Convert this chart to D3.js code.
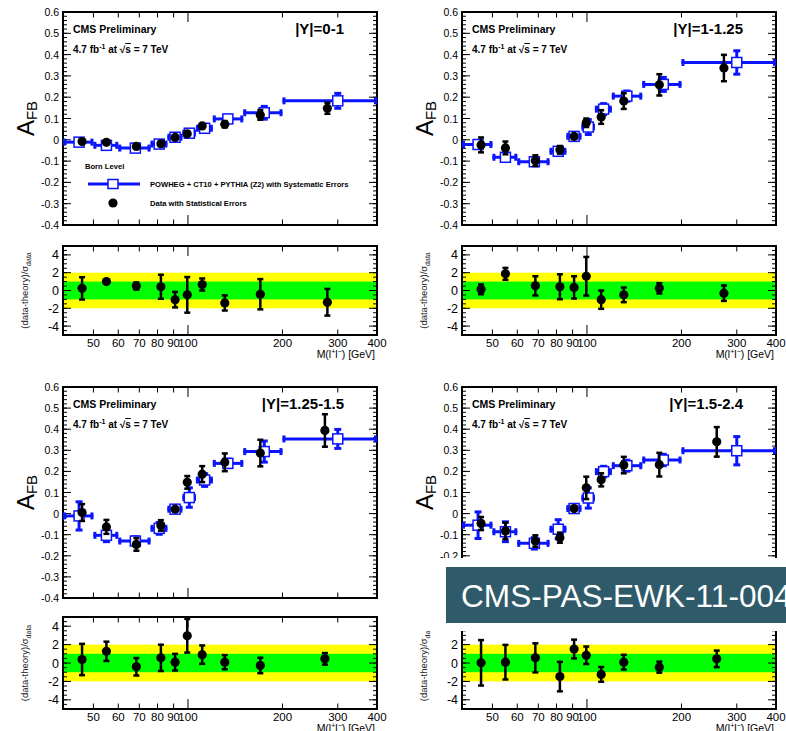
<!DOCTYPE html>
<html>
<head>
<meta charset="utf-8">
<script src="https://cdn.jsdelivr.net/npm/d3@7"></script>
<style>
  body { margin: 0; background: #fff; }
  svg { display: block; }
  text { font-family: "Liberation Sans", Arial, Helvetica, sans-serif; }
</style>
</head>
<body>
<svg id="chart" width="786" height="731"></svg>
<script>
// mass bins in GeV
const binLow  = [40, 50, 60, 76, 86, 96, 106, 120, 150, 200];
const binHigh = [50, 60, 76, 86, 96, 106, 120, 150, 200, 400];
const massTheory = [45, 55, 68, 81, 91, 101, 113, 134, 175, 300];
const massData = [46, 55, 68.5, 82, 91, 99.5, 111, 131, 170];
const massDataLast = [278, 273, 273, 259];
const rapidityLabels = ["|Y|=0-1", "|Y|=1-1.25", "|Y|=1.25-1.5", "|Y|=1.5-2.4"];

// |Y| = 0-1
const theory0    = [-0.011, -0.026, -0.039, -0.020, 0.012, 0.031, 0.054, 0.098, 0.127, 0.183];
const theoryErr0 = [0.008, 0.006, 0.006, 0.008, 0.008, 0.008, 0.010, 0.010, 0.030, 0.035];
const data0      = [-0.008, -0.012, -0.031, -0.019, 0.011, 0.028, 0.065, 0.073, 0.117, 0.148];
const dataErr0   = [0.010, 0.008, 0.010, 0.010, 0.010, 0.008, 0.008, 0.015, 0.023, 0.026];
const pull0      = [0.24, 1.0, 0.5, 0.42, -1.03, -0.49, 0.67, -1.4, -0.42, -1.32];
const pullErr0   = [1.25, 0.1, 0.4, 1.35, 0.87, 2.0, 0.68, 0.85, 1.7, 1.5];

// |Y| = 1-1.25
const theory1    = [-0.022, -0.082, -0.103, -0.054, 0.016, 0.060, 0.144, 0.205, 0.260, 0.363];
const theoryErr1 = [0.010, 0.010, 0.015, 0.012, 0.008, 0.035, 0.026, 0.024, 0.033, 0.055];
const data1      = [-0.024, -0.038, -0.098, -0.047, 0.016, 0.080, 0.107, 0.182, 0.258, 0.337];
const dataErr1   = [0.035, 0.030, 0.025, 0.018, 0.008, 0.020, 0.032, 0.037, 0.050, 0.062];
const pull1      = [0.13, 1.87, 0.52, 0.42, 0.35, 1.6, -1.03, -0.49, 0.24, -0.3];
const pullErr1   = [0.55, 0.67, 1.08, 1.4, 1.25, 2.17, 1.03, 0.82, 0.58, 0.87];

// |Y| = 1.25-1.5
const theory2    = [-0.011, -0.103, -0.130, -0.070, 0.021, 0.076, 0.159, 0.238, 0.294, 0.354];
const theoryErr2 = [0.067, 0.030, 0.020, 0.028, 0.008, 0.046, 0.030, 0.020, 0.050, 0.045];
const data2      = [0.005, -0.063, -0.146, -0.056, 0.021, 0.148, 0.187, 0.243, 0.287, 0.394];
const dataErr2   = [0.040, 0.033, 0.030, 0.025, 0.008, 0.030, 0.038, 0.042, 0.063, 0.077];
const pull2      = [0.38, 1.27, -0.41, 0.56, 0.09, 2.96, 0.91, 0.09, -0.27, 0.45];
const pullErr2   = [1.7, 1.05, 0.95, 1.43, 0.9, 1.83, 1.0, 0.77, 0.84, 0.63];

// |Y| = 1.5-2.4
const theory3    = [-0.055, -0.086, -0.141, -0.074, 0.024, 0.074, 0.199, 0.227, 0.254, 0.298];
const theoryErr3 = [0.063, 0.047, 0.027, 0.045, 0.008, 0.048, 0.025, 0.026, 0.027, 0.067];
const data3      = [-0.047, -0.082, -0.130, -0.114, 0.024, 0.122, 0.160, 0.230, 0.232, 0.340];
const dataErr3   = [0.031, 0.039, 0.027, 0.024, 0.008, 0.053, 0.031, 0.039, 0.056, 0.070];
const pull3      = [0.02, 0.09, 0.56, -1.48, 1.52, 0.84, -1.24, 0.09, -0.45, 0.45];
const pullErr3   = [2.47, 1.88, 1.58, 1.6, 1.02, 0.95, 0.8, 0.8, 0.6, 0.9];

const xTickVals = [50, 60, 70, 80, 90, 100, 200, 300, 400];
const afbLabels = [-0.4, -0.3, -0.2, -0.1, 0, 0.1, 0.2, 0.3, 0.4, 0.5, 0.6];
const pullLabels = [-4, -2, 0, 2, 4];

const theories = [theory0, theory1, theory2, theory3];
const theoryErrs = [theoryErr0, theoryErr1, theoryErr2, theoryErr3];
const datas = [data0, data1, data2, data3];
const dataErrs = [dataErr0, dataErr1, dataErr2, dataErr3];
const pulls = [pull0, pull1, pull2, pull3];
const pullErrs = [pullErr0, pullErr1, pullErr2, pullErr3];

const BLUE = "#0a14ff";
const svg = d3.select("#chart");

// pixel boxes of the four pads
const pads = [
  { x0: 63,  x1: 377, top: [12, 225],  ratio: [246, 335] },
  { x0: 462, x1: 776, top: [12, 225],  ratio: [246, 335] },
  { x0: 63,  x1: 377, top: [387, 598], ratio: [617, 709] },
  { x0: 462, x1: 776, top: [387, 598], ratio: [617, 709] }
];

function drawTicks(g, x, y, yMajors, yMinors, bigX) {
  const [xa, xb] = x.range();
  const [yb, ya] = y.range();
  const t = g.append("g").attr("stroke", "#000").attr("stroke-width", 1);
  yMinors.forEach(v => {
    t.append("line").attr("x1", xa).attr("x2", xa + 4).attr("y1", y(v)).attr("y2", y(v));
    t.append("line").attr("x1", xb).attr("x2", xb - 4).attr("y1", y(v)).attr("y2", y(v));
  });
  yMajors.forEach(v => {
    t.append("line").attr("x1", xa).attr("x2", xa + 8).attr("y1", y(v)).attr("y2", y(v));
    t.append("line").attr("x1", xb).attr("x2", xb - 8).attr("y1", y(v)).attr("y2", y(v));
  });
  xTickVals.forEach(v => {
    const len = v === 100 ? bigX : bigX * 0.55;
    t.append("line").attr("x1", x(v)).attr("x2", x(v)).attr("y1", yb).attr("y2", yb - len);
    t.append("line").attr("x1", x(v)).attr("x2", x(v)).attr("y1", ya).attr("y2", ya + len);
  });
  g.append("rect").attr("x", xa).attr("y", ya).attr("width", xb - xa).attr("height", yb - ya)
    .attr("fill", "none").attr("stroke", "#000").attr("stroke-width", 2);
}

function errBar(g, cx, ylo, yhi, color, w, cap) {
  g.append("line").attr("x1", cx).attr("x2", cx).attr("y1", ylo).attr("y2", yhi)
    .attr("stroke", color).attr("stroke-width", w);
  [ylo, yhi].forEach(yy => g.append("line").attr("x1", cx - cap).attr("x2", cx + cap)
    .attr("y1", yy).attr("y2", yy).attr("stroke", color).attr("stroke-width", w));
}

function drawPanel(i) {
  const p = pads[i];
  const x = d3.scaleLog().domain([40, 400]).range([p.x0, p.x1]);
  const y = d3.scaleLinear().domain([-0.4, 0.6]).range([p.top[1], p.top[0]]);
  const yr = d3.scaleLinear().domain([-5, 5]).range([p.ratio[1], p.ratio[0]]);
  const g = svg.append("g");
  const dmass = massData.concat([massDataLast[i]]);

  // ---- upper pad ----
  const minorsA = d3.range(-40, 61, 2).map(v => v / 100);
  drawTicks(g, x, y, afbLabels, minorsA, 10);
  g.selectAll(".yl").data(afbLabels).enter().append("text")
    .attr("x", p.x0 - 4).attr("y", d => y(d) + 4).attr("text-anchor", "end")
    .attr("font-size", 10.5).text(d => d === 0 ? "0" : d.toFixed(1));

  // theory: bin-wide horizontal bars plus systematic errors
  const th = g.append("g");
  theories[i].forEach((v, k) => {
    const yy = y(v), xl = x(binLow[k]), xh = x(binHigh[k]);
    th.append("line").attr("x1", xl).attr("x2", xh).attr("y1", yy).attr("y2", yy)
      .attr("stroke", BLUE).attr("stroke-width", 3);
    [xl + 1.5, xh - 1.5].forEach(xx => th.append("line").attr("x1", xx).attr("x2", xx)
      .attr("y1", yy - 3.5).attr("y2", yy + 3.5).attr("stroke", BLUE).attr("stroke-width", 3));
    errBar(th, x(massTheory[k]), y(v - theoryErrs[i][k]), y(v + theoryErrs[i][k]), BLUE, 3, 3.5);
  });
  theories[i].forEach((v, k) => {
    th.append("rect").attr("x", x(massTheory[k]) - 5).attr("y", y(v) - 5)
      .attr("width", 10).attr("height", 10).attr("fill", "#fff")
      .attr("stroke", BLUE).attr("stroke-width", 1.5);
  });

  // data with statistical errors
  const dg = g.append("g");
  datas[i].forEach((v, k) => {
    errBar(dg, x(dmass[k]), y(v - dataErrs[i][k]), y(v + dataErrs[i][k]), "#000", 2.5, 3);
    dg.append("circle").attr("cx", x(dmass[k])).attr("cy", y(v)).attr("r", 4.6).attr("fill", "#000");
  });

  // texts
  g.append("text").attr("x", p.x0 + 10).attr("y", p.top[0] + 21)
    .attr("font-size", 10.5).attr("font-weight", "bold").text("CMS Preliminary");
  const lum = g.append("text").attr("x", p.x0 + 10).attr("y", p.top[0] + 41)
    .attr("font-size", 10).attr("font-weight", "bold");
  lum.append("tspan").text("4.7 fb");
  lum.append("tspan").attr("font-size", 7).attr("dy", -4).text("-1");
  lum.append("tspan").attr("dy", 4).text(" at \u221A");
  lum.append("tspan").attr("text-decoration", "overline").text("s");
  lum.append("tspan").text(" = 7 TeV");
  g.append("text").attr("x", p.x1 - 33).attr("y", p.top[0] + 22).attr("text-anchor", "end")
    .attr("font-size", 15).attr("font-weight", "bold").text(rapidityLabels[i]);

  const yc = (p.top[0] + p.top[1]) / 2;
  const at = g.append("text").attr("transform", `translate(${p.x0 - 29},${yc}) rotate(-90)`)
    .attr("text-anchor", "middle").attr("font-size", 24);
  at.append("tspan").text("A");
  at.append("tspan").attr("font-size", 15).attr("dy", 3).text("FB");

  // ---- ratio pad ----
  const r = g.append("g");
  r.append("rect").attr("x", p.x0).attr("width", p.x1 - p.x0)
    .attr("y", yr(2)).attr("height", yr(-2) - yr(2)).attr("fill", "#ffff00");
  r.append("rect").attr("x", p.x0).attr("width", p.x1 - p.x0)
    .attr("y", yr(1)).attr("height", yr(-1) - yr(1)).attr("fill", "#00ff00");
  const minorsR = d3.range(-5, 5.01, 0.5);
  drawTicks(r, x, yr, pullLabels, minorsR, 10);
  r.selectAll(".rl").data(pullLabels).enter().append("text")
    .attr("x", p.x0 - 4).attr("y", d => yr(d) + 4.5).attr("text-anchor", "end")
    .attr("font-size", 12.5).text(d => d);
  pulls[i].forEach((v, k) => {
    errBar(r, x(dmass[k]), yr(v - pullErrs[i][k]), yr(v + pullErrs[i][k]), "#000", 2.5, 3);
    r.append("circle").attr("cx", x(dmass[k])).attr("cy", yr(v)).attr("r", 4.6).attr("fill", "#000");
  });
  r.selectAll(".xl").data(xTickVals).enter().append("text")
    .attr("x", d => x(d)).attr("y", p.ratio[1] + 12).attr("text-anchor", "middle")
    .attr("font-size", 11.5).text(d => d);
  const mt = r.append("text").attr("x", p.x1 - 2).attr("y", p.ratio[1] + 23)
    .attr("text-anchor", "end").attr("font-size", 10.5);
  mt.append("tspan").text("M(l");
  mt.append("tspan").attr("font-size", 7).attr("dy", -4).text("+");
  mt.append("tspan").attr("dy", 4).text("l");
  mt.append("tspan").attr("font-size", 7).attr("dy", -4).text("\u2212");
  mt.append("tspan").attr("dy", 4).text(") [GeV]");
  const rc = (p.ratio[0] + p.ratio[1]) / 2;
  const rt = r.append("text").attr("transform", `translate(${p.x0 - 35},${rc}) rotate(-90)`)
    .attr("text-anchor", "middle").attr("font-size", 9.5).attr("fill", "#222");
  rt.append("tspan").text("(data-theory)/\u03C3");
  rt.append("tspan").attr("font-size", 7).attr("dy", 2.5).text("data");
}

[0, 1, 2, 3].forEach(drawPanel);

// legend of the first pad
const lg = svg.append("g").attr("font-weight", "bold").attr("font-size", 7.6);
lg.append("text").attr("x", 85).attr("y", 169).text("Born Level");
lg.append("line").attr("x1", 88).attr("x2", 140).attr("y1", 184).attr("y2", 184)
  .attr("stroke", BLUE).attr("stroke-width", 3);
lg.append("rect").attr("x", 108).attr("y", 179.5).attr("width", 10).attr("height", 9)
  .attr("fill", "#fff").attr("stroke", BLUE).attr("stroke-width", 1.5);
lg.append("text").attr("x", 150).attr("y", 187).text("POWHEG + CT10 + PYTHIA (Z2) with Systematic Errors");
lg.append("circle").attr("cx", 113).attr("cy", 203).attr("r", 4.6).attr("fill", "#000");
lg.append("text").attr("x", 150).attr("y", 206).text("Data with Statistical Errors");

// document label overlay (white margin, then the teal box)
svg.append("rect").attr("x", 390).attr("y", 558).attr("width", 396).attr("height", 73).attr("fill", "#fff");
svg.append("rect").attr("x", 446).attr("y", 567).attr("width", 345).attr("height", 56).attr("fill", "#2e5a69");
svg.append("text").attr("x", 461).attr("y", 607).attr("fill", "#fff")
  .attr("font-family", "'Open Sans', sans-serif").attr("font-size", 31.6)
  .text("CMS-PAS-EWK-11-004");
</script>
</body>
</html>
